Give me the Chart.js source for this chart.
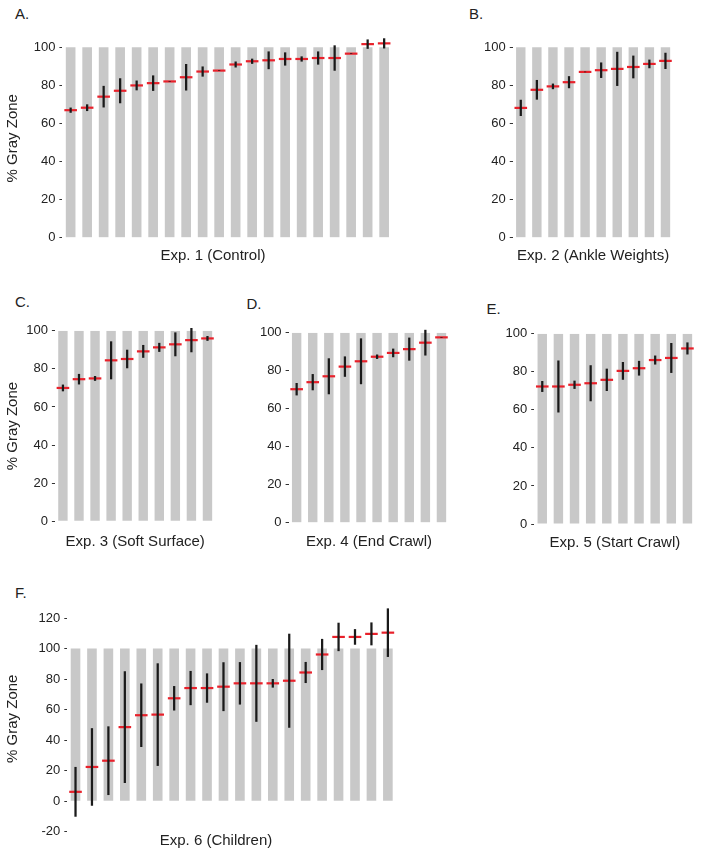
<!DOCTYPE html>
<html>
<head>
<meta charset="utf-8">
<script src="https://cdn.jsdelivr.net/npm/chart.js@4.4.1/dist/chart.umd.min.js"></script>
<style>
  html, body { margin: 0; padding: 0; background: #ffffff; overflow: hidden; }
  body { width: 704px; height: 856px; position: relative; font-family: "Liberation Sans", Arial, sans-serif; }
  .panel { position: absolute; }
  .letter { position: absolute; font-size: 15px; line-height: 15px; color: #222; font-family: "Liberation Sans", Arial, sans-serif; }
</style>
</head>
<body>
<div class="letter" style="left:15px; top:5.6px;">A.</div>
<div class="letter" style="left:469px; top:5.6px;">B.</div>
<div class="letter" style="left:15px; top:294px;">C.</div>
<div class="letter" style="left:246.5px; top:295.6px;">D.</div>
<div class="letter" style="left:486.5px; top:300.6px;">E.</div>
<div class="letter" style="left:15px; top:584.6px;">F.</div>

<script>
// ---------------- DATA ----------------
const grayZone = [0, 100];            // gray band spans 0-100 %
const yTicksStd = [0, 20, 40, 60, 80, 100];
const yTicksChildren = [-20, 0, 20, 40, 60, 80, 100, 120];

const subjects20 = ['1','2','3','4','5','6','7','8','9','10','11','12','13','14','15','16','17','18','19','20'];
const subjects10 = ['1','2','3','4','5','6','7','8','9','10'];

// Exp. 1 (Control)
const exp1Mean = [67.0, 68.3, 74.1, 77.2, 80.0, 81.2, 82.1, 84.3, 87.3, 87.8, 91.0, 92.7, 93.2, 93.9, 93.9, 94.4, 94.4, 96.7, 101.7, 102.1];
const exp1Err  = [1.2, 1.6, 5.5, 6.4, 2.4, 3.9, 0, 6.8, 2.5, 0, 1.4, 1.2, 4.5, 3.3, 1.2, 3.3, 6.5, 0, 2.3, 2.5];
// Exp. 2 (Ankle Weights)
const exp2Mean = [68.2, 77.7, 79.5, 81.7, 87.1, 88.0, 88.7, 89.7, 91.3, 92.9];
const exp2Err  = [4.1, 5.0, 1.3, 3.0, 0, 3.9, 8.8, 5.8, 2.1, 4.1];
// Exp. 3 (Soft Surface)
const exp3Mean = [70.0, 74.6, 75.0, 84.5, 85.2, 89.2, 91.3, 92.9, 95.1, 96.0];
const exp3Err  = [1.6, 2.6, 1.1, 9.8, 4.7, 3.2, 2.2, 6.1, 6.2, 1.1];
// Exp. 4 (End Crawl)
const exp4Mean = [70.3, 74.0, 77.1, 82.2, 85.0, 87.4, 89.4, 91.4, 94.8, 97.6];
const exp4Err  = [3.1, 4.1, 9.3, 5.2, 11.9, 1.0, 2.1, 5.9, 6.6, 0];
// Exp. 5 (Start Crawl)
const exp5Mean = [72.3, 72.3, 73.2, 74.0, 75.8, 80.5, 81.9, 86.2, 87.3, 92.3];
const exp5Err  = [2.7, 13.5, 2.0, 9.3, 5.7, 4.5, 3.7, 2.2, 7.7, 3.0];
// Exp. 6 (Children)
const exp6Mean = [6.1, 22.4, 26.5, 48.5, 56.3, 56.7, 67.4, 74.1, 74.1, 75.0, 77.2, 77.2, 77.2, 78.9, 84.3, 96.1, 107.6, 107.6, 109.6, 110.4];
const exp6Err  = [16.1, 25.2, 22.3, 36.4, 20.6, 33.4, 7.8, 11.0, 9.4, 15.8, 13.7, 25.0, 2.6, 30.6, 6.7, 10.0, 9.1, 4.9, 7.3, 15.7];

// ---------------- STYLE ----------------
const FONT = '"Liberation Sans", Arial, sans-serif';
const TEXT = '#222222';
const GRAY = '#c8c8c8';
const RED = '#e8202a';
const BLACK = '#1a1a1a';
Chart.defaults.font.family = FONT;
Chart.defaults.color = TEXT;

function makePanel(p) {
  const lh = 18; // 15px * 1.2
  const pxPerUnit = p.pxPerUnit;
  const yTop = p.y0 - p.max * pxPerUnit;
  const yBot = p.y0 - p.min * pxPerUnit;
  const left = Math.floor(p.xL - p.yw);
  const top = Math.floor(yTop - 10);
  const yw = p.xL - left;
  const padTop = yTop - top;
  const tPadTop = Math.max(0, p.titleCY - yBot - lh / 2);
  let right, rightW = 0, padRight = 0;
  if (p.titleCX !== undefined) {
    right = Math.round(2 * p.titleCX - left);
    rightW = right - p.xR;
  } else {
    right = Math.ceil(p.xR + 4);
    padRight = right - p.xR;
  }
  const bottom = Math.ceil(yBot + tPadTop + lh + 4);
  const tPadBot = bottom - yBot - tPadTop - lh;

  const wrap = document.createElement('div');
  wrap.className = 'panel';
  wrap.style.left = left + 'px';
  wrap.style.top = top + 'px';
  wrap.style.width = (right - left) + 'px';
  wrap.style.height = (bottom - top) + 'px';
  const cv = document.createElement('canvas');
  wrap.appendChild(cv);
  document.body.appendChild(wrap);

  const scales = {
    x: { type: 'category', display: false, offset: true },
    y: {
      type: 'linear', position: 'left', min: p.min, max: p.max,
      afterBuildTicks: (s) => { s.ticks = p.ticks.map(v => ({ value: v })); },
      afterFit: (s) => { s.width = yw; },
      ticks: { font: { size: 13 }, color: TEXT, padding: 4, callback: (v) => String(v) },
      grid: { display: true, drawOnChartArea: false, drawTicks: true, tickLength: 3, tickColor: '#333', tickWidth: 1 },
      border: { display: false },
      title: { display: p.yTitle, text: '% Gray Zone', font: { size: 15 }, color: TEXT, padding: { top: 4, bottom: 0 } }
    }
  };
  if (rightW > 0) {
    scales.yR = {
      type: 'linear', position: 'right', display: true,
      ticks: { display: false }, grid: { display: false }, border: { display: false },
      afterFit: (s) => { s.width = rightW; }
    };
  }

  new Chart(cv, {
    type: 'bar',
    data: {
      labels: p.labels,
      datasets: [
        {
          type: 'bar', label: 'gray zone', order: 3,
          data: p.labels.map(() => grayZone),
          backgroundColor: GRAY, borderWidth: 0,
          barPercentage: 0.585, categoryPercentage: 1.0, grouped: false
        },
        {
          type: 'line', label: 'mean', order: 2, showLine: false,
          data: p.mean,
          pointStyle: 'line', pointRadius: 6.3, pointBorderWidth: 2.2,
          pointBorderColor: RED, pointBackgroundColor: RED, clip: false
        },
        {
          type: 'bar', label: 'range', order: 1,
          data: p.mean.map((m, i) => [m - p.err[i], m + p.err[i]]),
          backgroundColor: BLACK, borderWidth: 0,
          barThickness: 1.6, grouped: false, clip: false
        }
      ]
    },
    options: {
      responsive: true, maintainAspectRatio: false, animation: false, events: [],
      layout: { padding: { top: padTop, left: 0, right: padRight, bottom: 0 } },
      scales,
      plugins: {
        legend: { display: false },
        tooltip: { enabled: false },
        title: {
          display: true, text: p.xTitle, position: 'bottom', fullSize: p.titleCX !== undefined,
          font: { size: 15, weight: 'normal' }, color: TEXT,
          padding: { top: tPadTop, bottom: tPadBot }
        }
      }
    }
  });
}

makePanel({ labels: subjects20, mean: exp1Mean, err: exp1Err, ticks: yTicksStd, min: 0, max: 104.5,
  xL: 62.4, xR: 392.4, y0: 237.7, pxPerUnit: 1.917, yw: 62.4, yTitle: true,
  xTitle: 'Exp. 1 (Control)', titleCX: 213, titleCY: 255.5 });
makePanel({ labels: subjects10, mean: exp2Mean, err: exp2Err, ticks: yTicksStd, min: 0, max: 104.5,
  xL: 512.75, xR: 677.75, y0: 237.7, pxPerUnit: 1.917, yw: 38, yTitle: false,
  xTitle: 'Exp. 2 (Ankle Weights)', titleCY: 255.5 });
makePanel({ labels: subjects10, mean: exp3Mean, err: exp3Err, ticks: yTicksStd, min: 0, max: 100,
  xL: 54.9, xR: 219.9, y0: 521.3, pxPerUnit: 1.913, yw: 54.9, yTitle: true,
  xTitle: 'Exp. 3 (Soft Surface)', titleCY: 542 });
makePanel({ labels: subjects10, mean: exp4Mean, err: exp4Err, ticks: yTicksStd, min: 0, max: 100,
  xL: 288.6, xR: 453.6, y0: 522.7, pxPerUnit: 1.91, yw: 40, yTitle: false,
  xTitle: 'Exp. 4 (End Crawl)', titleCY: 542 });
makePanel({ labels: subjects10, mean: exp5Mean, err: exp5Err, ticks: yTicksStd, min: 0, max: 100,
  xL: 534.2, xR: 699.2, y0: 524, pxPerUnit: 1.913, yw: 40, yTitle: false,
  xTitle: 'Exp. 5 (Start Crawl)', titleCY: 543 });
makePanel({ labels: subjects20, mean: exp6Mean, err: exp6Err, ticks: yTicksChildren, min: -20, max: 128,
  xL: 67.3, xR: 396.1, y0: 801, pxPerUnit: 1.533, yw: 67.3, yTitle: true,
  xTitle: 'Exp. 6 (Children)', titleCX: 216, titleCY: 840 });
</script>
</body>
</html>
